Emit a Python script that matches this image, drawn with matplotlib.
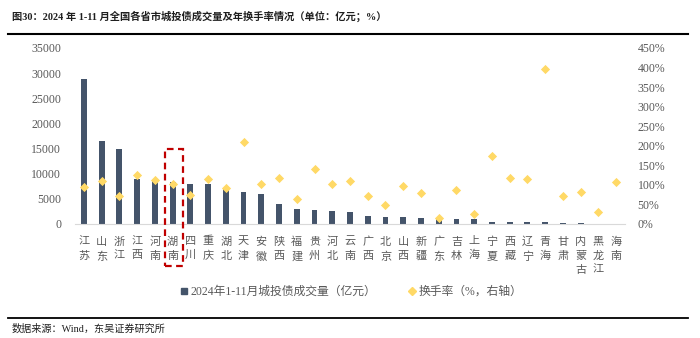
import matplotlib as mpl
mpl.use('Agg')
import matplotlib.pyplot as plt
from matplotlib.patches import Rectangle
from matplotlib.lines import Line2D
import numpy as np

plt.rcParams['font.family'] = ['Liberation Serif', 'Noto Sans CJK SC', 'DejaVu Sans']

# data
provinces = ['江苏', '山东', '浙江', '江西', '河南', '湖南', '四川', '重庆', '湖北', '天津',
             '安徽', '陕西', '福建', '贵州', '河北', '云南', '广西', '北京', '山西', '新疆',
             '广东', '吉林', '上海', '宁夏', '西藏', '辽宁', '青海', '甘肃', '内蒙古', '黑龙江', '海南']
volume = [28800, 16500, 14850, 8900, 8700, 8400, 8000, 7950, 6900, 6300,
          5900, 3900, 3000, 2800, 2550, 2300, 1650, 1330, 1300, 1200,
          1100, 1000, 900, 400, 380, 350, 300, 250, 100, 50, 30]
turnover = [95, 111, 71, 125, 112, 103, 75, 114, 92, 209,
            103, 118, 63, 141, 103, 109, 71, 49, 98, 78,
            16, 87, 26, 175, 118, 115, 397, 71, 83, 31, 107]
left_ticks = [0, 5000, 10000, 15000, 20000, 25000, 30000, 35000]
right_ticks = [0, 50, 100, 150, 200, 250, 300, 350, 400, 450]

bar_color = '#44546A'
dot_color = '#FFD966'
txt_color = '#595959'

fig = plt.figure(figsize=(7.0, 3.38), dpi=100)
ax = fig.add_axes([75/700, 1-224/338, 550/700, 176/338])
ax2 = ax.twinx()

x = np.arange(len(provinces))
ax.bar(x, volume, width=0.33, color=bar_color, zorder=2)
ax2.scatter(x, turnover, marker='D', s=22, color=dot_color, zorder=3, linewidths=0)

ax.set_xlim(-0.5, len(provinces)-0.5)
ax.set_ylim(0, 35000)
ax2.set_ylim(0, 450)
ax.set_yticks(left_ticks)
ax.set_yticklabels([str(v) for v in left_ticks])
ax2.set_yticks(right_ticks)
ax2.set_yticklabels([f'{v}%' for v in right_ticks])
ax.set_xticks(x)
ax.set_xticklabels(['\n'.join(p) for p in provinces], linespacing=1.55, va='top')

for a in (ax, ax2):
	for s in ['top', 'left', 'right', 'bottom']:
		a.spines[s].set_visible(False)
	a.tick_params(length=0, colors=txt_color, labelsize=8.5)
ax.spines['bottom'].set_visible(True)
ax.spines['bottom'].set_color('#D9D9D9')
ax.tick_params(axis='x', pad=9, labelsize=8)
ax.tick_params(axis='y', pad=10)
ax2.tick_params(axis='y', pad=9)

# red dashed box round Hunan
fig.patches.append(Rectangle((165/700, 1-266/338), 18/700, 117/338, transform=fig.transFigure,
                             fill=False, edgecolor='#C00000', linestyle=(0, (3, 2)), linewidth=1.6))

# legend
h1 = Line2D([], [], marker='s', color=bar_color, linestyle='none', markersize=5)
h2 = Line2D([], [], marker='D', color=dot_color, linestyle='none', markersize=4.5)
fig.legend([h1, h2], ['2024年1-11月城投债成交量（亿元）', '换手率（%，右轴）'],
           loc='center', bbox_to_anchor=(350/700, 1-292/338), ncol=2, frameon=False,
           fontsize=8.5, handletextpad=0.05, columnspacing=2.5, labelcolor=txt_color, handlelength=1)

# title, rules and source
fig.text(12/700, 1-16/338, '图30：2024 年 1-11 月全国各省市城投债成交量及年换手率情况（单位：亿元；%）',
         fontsize=7.4, fontweight='bold', va='center', ha='left', color='#1F1F1F')
fig.add_artist(Line2D([8/700, 688/700], [1-34/338, 1-34/338], color='black', linewidth=1.5))
fig.add_artist(Line2D([8/700, 688/700], [1-318/338, 1-318/338], color='black', linewidth=1.3))
fig.text(12/700, 1-329/338, '数据来源：Wind，东吴证券研究所', fontsize=7.3, va='center', ha='left', color='#1F1F1F')

fig.savefig('out.png', dpi=100)
